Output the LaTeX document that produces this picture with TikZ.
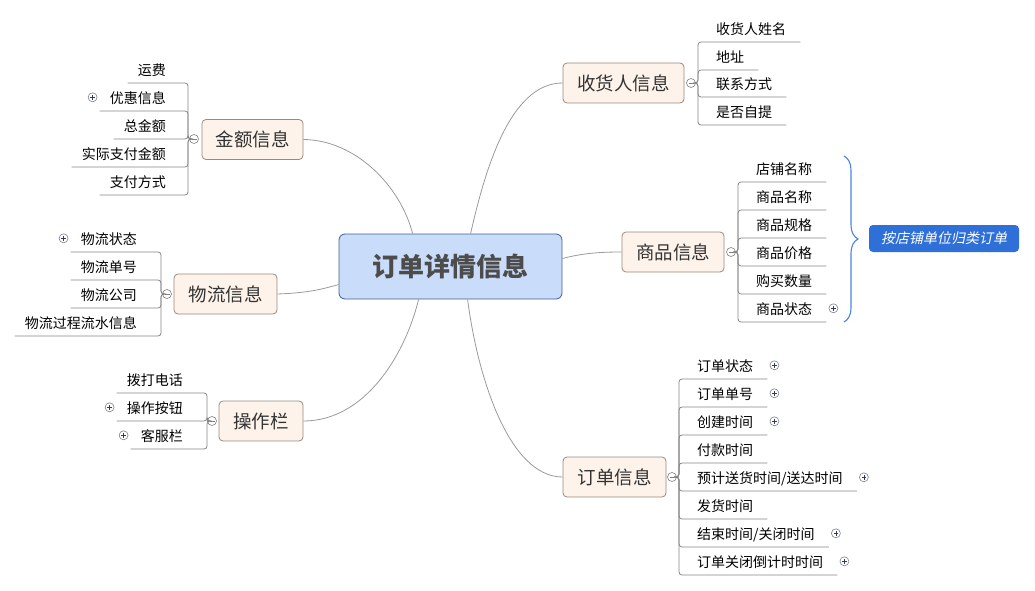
\documentclass[tikz,border=0pt]{standalone}
\usepackage{fontspec}
\setmainfont{Noto Sans CJK SC}
\newfontfamily\slantfont{Noto Sans CJK SC}[FakeSlant=0.2]
\usetikzlibrary{decorations.pathreplacing, calc, positioning}
\definecolor{hubfill}{HTML}{C9DCFA}
\definecolor{hubdraw}{HTML}{3F5F94}
\definecolor{topicfill}{HTML}{FEF3EA}
\definecolor{topicdraw}{HTML}{978A7E}
\definecolor{linegray}{HTML}{9A9A9A}
\definecolor{leafgray}{HTML}{858585}
\definecolor{noteblue}{HTML}{2E6FD8}
\definecolor{bracecol}{HTML}{4A86E0}
\definecolor{iconblue}{HTML}{2B3A67}
\tikzset{
  hub/.style={draw=hubdraw, fill=hubfill, rounded corners=6pt, line width=0.8pt,
    minimum width=223pt, minimum height=65pt,
    font=\fontsize{26}{29}\selectfont\bfseries, text=black!70},
  topic/.style={draw=topicdraw, fill=topicfill, rounded corners=4pt, line width=0.8pt,
    minimum height=40pt, font=\fontsize{18.5}{21}\selectfont, text=black!80},
  lleaf/.style={inner xsep=10pt, inner ysep=4.5pt, text height=11pt, text depth=3pt,
    font=\fontsize{14}{16}\selectfont, anchor=south east},
  rleaf/.style={lleaf, inner xsep=14pt, anchor=south west},
  branch/.style={draw=linegray, line width=0.8pt},
  leafline/.style={draw=leafgray, line width=0.8pt, rounded corners=3pt},
  fold/.style={circle, draw=gray, fill=white, line width=0.6pt, minimum size=9pt, inner sep=0pt},
  foldminus/.style={fold, path picture={
      \draw[gray, line width=0.7pt] ([xshift=-2.5pt]path picture bounding box.center)
        -- ([xshift=2.5pt]path picture bounding box.center);}},
  foldplus/.style={fold, path picture={
      \draw[iconblue, line width=0.7pt] ([xshift=-2.3pt]path picture bounding box.center)
        -- ([xshift=2.3pt]path picture bounding box.center)
        ([yshift=-2.3pt]path picture bounding box.center)
        -- ([yshift=2.3pt]path picture bounding box.center);}},
  note/.style={fill=noteblue, rounded corners=4pt, minimum width=150pt, minimum height=27pt,
    text=white, font=\fontsize{14}{16}\slantfont},
}

\begin{document}
\begin{tikzpicture}[x=1pt, y=-1pt]
  \useasboundingbox (0,0) rectangle (1035,591);

  % central topic and main branches
  \node[hub] (hub) at (450.5,266.5) {订单详情信息};
  \node[topic, minimum width=101pt] (jine) at (252.5,139.5) {金额信息};
  \node[topic, minimum width=103pt] (wuliu) at (225.5,294) {物流信息};
  \node[topic, minimum width=84pt] (caozuo) at (261,421) {操作栏};
  \node[topic, minimum width=121pt] (shouhuo) at (623.5,83) {收货人信息};
  \node[topic, minimum width=102pt] (shangpin) at (673,252) {商品信息};
  \node[topic, minimum width=103pt] (dingdan) at (614.5,477) {订单信息};

  \draw[branch] (jine.east) .. controls (355,140) and (400,185) .. ([xshift=74pt]hub.north west);
  \draw[branch] (wuliu.east) .. controls (305,293) and (320,290) .. ([yshift=-18pt]hub.west);
  \draw[branch] (caozuo.east) .. controls (365,421) and (405,355) .. ([xshift=80pt]hub.south west);
  \draw[branch] (shouhuo.west) .. controls (510,83) and (485,170) .. ([xshift=132pt]hub.north west);
  \draw[branch] (shangpin.west) .. controls (595,252) and (580,254) .. ([yshift=8pt]hub.east);
  \draw[branch] (dingdan.west) .. controls (510,477) and (478,380) .. ([xshift=129pt]hub.south west);

  % fold markers
  \node[foldminus] (jine-m) at (194,139) {};
  \node[foldminus] (wuliu-m) at (167,294) {};
  \node[foldminus] (caozuo-m) at (212,421) {};
  \node[foldminus] (shouhuo-m) at (691,83) {};
  \node[foldminus] (shangpin-m) at (731,252) {};
  \node[foldminus] (dingdan-m) at (672,477) {};

  % left subtopics
  \foreach \n/\t/\y/\p in {yf/运费/83/0, yh/优惠信息/111/1, zje/总金额/139/0,
      sjzf/实际支付金额/167/0, zffs/支付方式/195/0}{
    \node[lleaf] (\n) at (176,\y) {\t};
    \draw[leafline] (jine-m.west) -- (188,139) |- (\n.south west);
    \ifnum\p=1 \node[foldplus] (\n-p) at ([xshift=-7pt, yshift=2pt]\n.west) {};\fi
  }
  \foreach \n/\t/\y/\p in {wlzt/物流状态/252/1, wldh/物流单号/280/0,
      wlgs/物流公司/308/0, wlgc/物流过程流水信息/336/0}{
    \node[lleaf] (\n) at (147,\y) {\t};
    \draw[leafline] (wuliu-m.west) -- (161,294) |- (\n.south west);
    \ifnum\p=1 \node[foldplus] (\n-p) at ([xshift=-7pt, yshift=2pt]\n.west) {};\fi
  }
  \foreach \n/\t/\y/\p in {bddh/拨打电话/393/0, czan/操作按钮/421/1, kfl/客服栏/449/1}{
    \node[lleaf] (\n) at (193,\y) {\t};
    \draw[leafline] (caozuo-m.west) -- (207,421) |- (\n.south west);
    \ifnum\p=1 \node[foldplus] (\n-p) at ([xshift=-7pt, yshift=2pt]\n.west) {};\fi
  }

  % right subtopics
  \foreach \n/\t/\y/\p in {shxm/收货人姓名/42/0, dz/地址/70/0,
      lxfs/联系方式/97/0, sfzt/是否自提/125/0}{
    \node[rleaf] (\n) at (702,\y) {\t};
    \draw[leafline] (shouhuo-m.east) -- (698,83) |- (\n.south east);
  }
  \foreach \n/\t/\y/\p in {dpmc/店铺名称/182/0, spmc/商品名称/210/0, spgg/商品规格/238/0,
      spjg/商品价格/266/0, gmsl/购买数量/294/0, spzt/商品状态/322/1}{
    \node[rleaf] (\n) at (742,\y) {\t};
    \draw[leafline] (shangpin-m.east) -- (738,252) |- (\n.south east);
    \ifnum\p=1 \node[foldplus] (\n-p) at ([xshift=7pt, yshift=2pt]\n.east) {};\fi
  }
  \foreach \n/\t/\y/\p in {ddzt/订单状态/379/1, dddh/订单单号/407/1, cjsj/创建时间/435/1,
      fksj/付款时间/463/0, {yjsh}/{预计送货时间/送达时间}/491/1, fhsj/发货时间/519/0,
      jssj/{结束时间/关闭时间}/547/1, djs/订单关闭倒计时时间/575/1}{
    \node[rleaf] (\n) at (683,\y) {\t};
    \draw[leafline] (dingdan-m.east) -- (679,477) |- (\n.south east);
    \ifnum\p=1 \node[foldplus] (\n-p) at ([xshift=7pt, yshift=2pt]\n.east) {};\fi
  }

  % brace and note
  \coordinate (brace-top) at (844,156);
  \coordinate (brace-bot) at (844,322);
  \draw[bracecol, line width=1.1pt, decorate, decoration={brace, amplitude=14pt}]
    (brace-top) -- (brace-bot);
  \node[note] (note) at (944,238.5) {按店铺单位归类订单};
\end{tikzpicture}
\end{document}
